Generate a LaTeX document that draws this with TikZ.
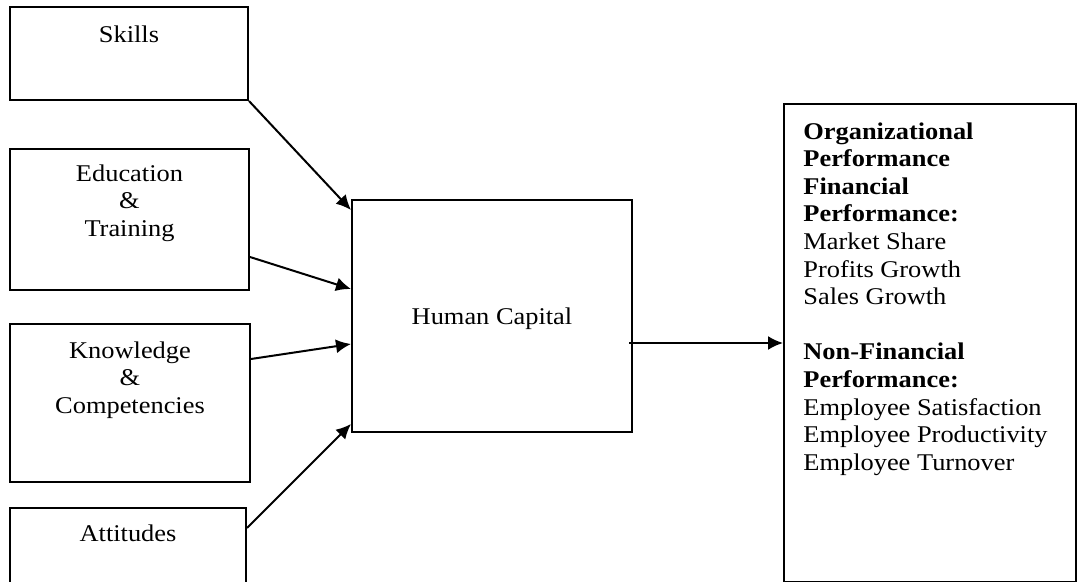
\documentclass[tikz,border=0pt]{standalone}
\usepackage{fontspec}
\setmainfont[FakeStretch=1.1]{Liberation Serif}
\usetikzlibrary{calc, arrows.meta}
\tikzset{every node/.style={align=center, font=\fontsize{12}{13.8}\selectfont}}
\tikzset{box/.style={draw, line width=1pt, inner sep=0pt}}
\tikzset{boxtext/.style={anchor=north, inner sep=0pt}}
\tikzset{link/.style={line width=1pt, -{Latex[length=7.5pt, width=7pt]}}}

\begin{document}
\begin{tikzpicture}[x=0.5pt, y=-0.5pt]

		% Frame
		\path[use as bounding box, clip] (0,0) rectangle (1077,582);

		% Factors
		\node[box, minimum width=119pt, minimum height=46.5pt] (skills) at (129,53.5) {};
		\node[box, minimum width=119.5pt, minimum height=70.5pt] (edu) at (129.5,219.5) {};
		\node[box, minimum width=120pt, minimum height=79pt] (know) at (130,403) {};
		\node[box, minimum width=118pt, minimum height=50pt] (att) at (128,558) {};

		%% Texts
		\node[boxtext] (skillsT) at ($(skills.north)+(0,19)$) {Skills};
		\node[boxtext] (eduT) at ($(edu.north)+(0,16)$) {Education\\ \&\\ Training};
		\node[boxtext] (knowT) at ($(know.north)+(0,18)$) {Knowledge\\ \&\\ Competencies};
		\node[boxtext] (attT) at ($(att.north)+(0,17)$) {Attitudes};

		% Human Capital
		\node[box, minimum width=140pt, minimum height=116pt] (hc) at (492,316) {};
		\node[inner sep=0pt] (hcT) at ($(hc.center)+(0,3)$) {Human Capital};

		% Performance
		\node[box, minimum width=146pt, minimum height=239pt] (perf) at (930,343) {};
		\node[anchor=north west, inner sep=0pt, align=left] (perfT) at ($(perf.north west)+(20,19)$)
			{\textbf{Organizational}\\ \textbf{Performance}\\ \textbf{Financial}\\ \textbf{Performance:}\\
			 Market Share\\ Profits Growth\\ Sales Growth\\[13.8pt]
			 \textbf{Non-Financial}\\ \textbf{Performance:}\\
			 Employee Satisfaction\\ Employee Productivity\\ Employee Turnover};

		% Arrows
		\draw[link] (skills.south east) -- ($(hc.north west)+(0,11)$);
		\draw[link] ($(edu.south east)+(0,-34)$) -- ($(hc.north west)+(0,90)$);
		\draw[link] ($(know.north east)+(0,36)$) -- ($(hc.north west)+(0,145)$);
		\draw[link] ($(att.north east)+(0,21)$) -- ($(hc.south west)+(0,-9)$);
		\draw[link] ($(hc.east |- perf.west)+(-4,0)$) -- (perf.west);

\end{tikzpicture}
\end{document}
